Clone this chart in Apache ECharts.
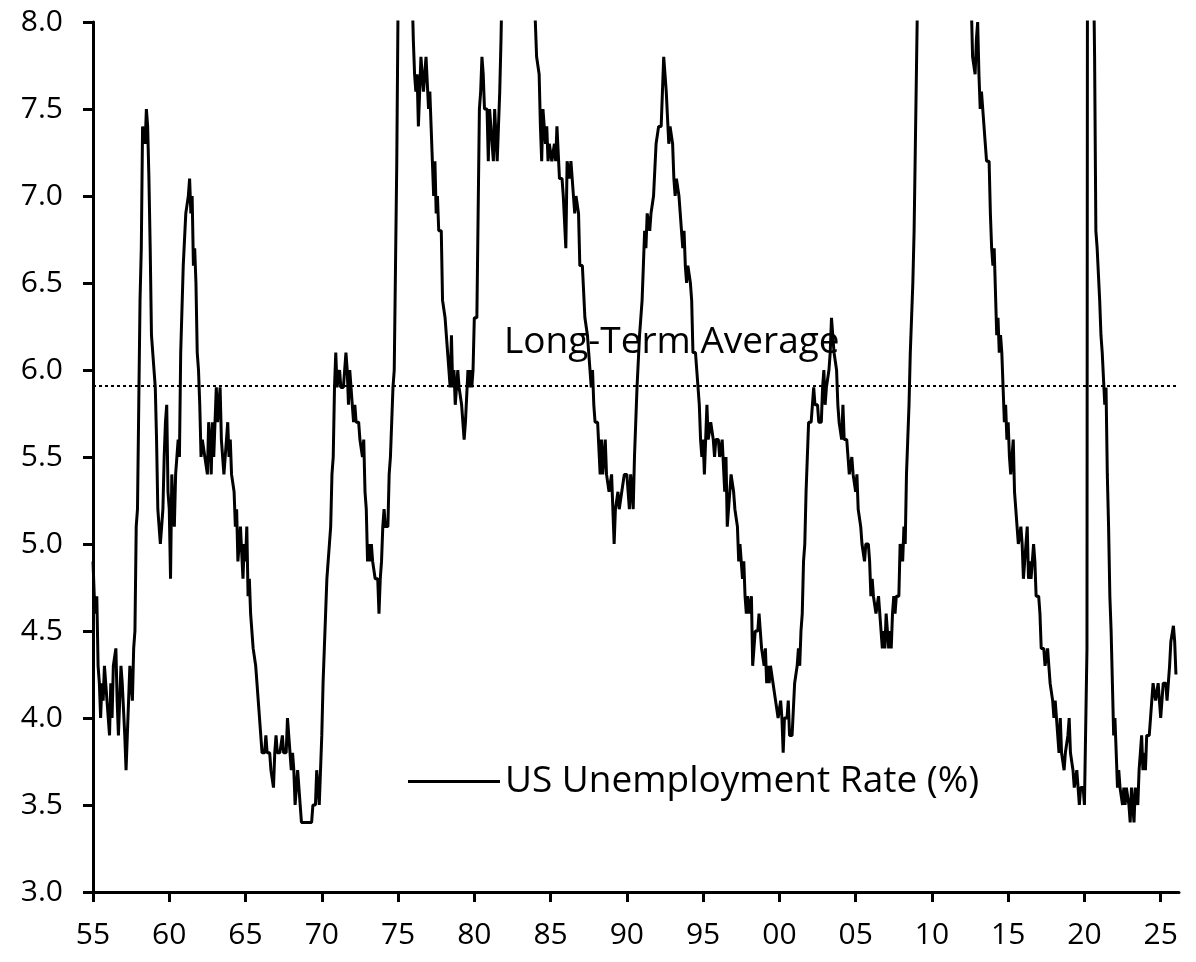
<!DOCTYPE html>
<html>
<head>
<meta charset="utf-8">
<script src="https://cdn.jsdelivr.net/npm/echarts@6/dist/echarts.min.js"></script>
<style>html,body{margin:0;padding:0;background:#fff}#c{width:1196px;height:962px}</style>
</head>
<body>
<div id="c"></div>
<script>
// US unemployment rate, monthly, starting January 1955
const startYear = 1955;
const rate1955s = [
  4.9,4.7,4.6,4.7,4.3,4.2,4.0,4.2,4.1,4.3,4.2,4.2,
  4.0,3.9,4.2,4.0,4.3,4.3,4.4,4.1,3.9,3.9,4.3,4.2,
  4.2,3.9,3.7,3.9,4.1,4.3,4.2,4.1,4.4,4.5,5.1,5.2,
  5.8,6.4,6.7,7.4,7.4,7.3,7.5,7.4,7.1,6.7,6.2,6.2,
  6.0,5.9,5.6,5.2,5.1,5.0,5.1,5.2,5.5,5.7,5.8,5.3
];
const rate1960s = [
  5.2,4.8,5.4,5.2,5.1,5.4,5.5,5.6,5.5,6.1,6.1,6.6,
  6.6,6.9,6.9,7.0,7.1,6.9,7.0,6.6,6.7,6.5,6.1,6.0,
  5.8,5.5,5.6,5.6,5.5,5.5,5.4,5.7,5.6,5.4,5.7,5.5,
  5.7,5.9,5.7,5.7,5.9,5.6,5.6,5.4,5.5,5.5,5.7,5.5,
  5.6,5.4,5.4,5.3,5.1,5.2,4.9,5.0,5.1,5.1,4.8,5.0,
  4.9,5.1,4.7,4.8,4.6,4.6,4.4,4.4,4.3,4.2,4.1,4.0,
  4.0,3.8,3.8,3.8,3.9,3.8,3.8,3.8,3.7,3.7,3.6,3.8,
  3.9,3.8,3.8,3.8,3.8,3.9,3.8,3.8,3.8,4.0,3.9,3.8,
  3.7,3.8,3.7,3.5,3.5,3.7,3.7,3.5,3.4,3.4,3.4,3.4,
  3.4,3.4,3.4,3.4,3.4,3.5,3.5,3.5,3.7,3.7,3.5,3.5
];
const rate1970s = [
  3.9,4.2,4.4,4.6,4.8,4.9,5.0,5.1,5.4,5.5,5.9,6.1,
  5.9,5.9,6.0,5.9,5.9,5.9,6.0,6.1,6.0,5.8,6.0,6.0,
  5.8,5.7,5.8,5.7,5.7,5.7,5.6,5.6,5.5,5.6,5.3,5.2,
  4.9,5.0,4.9,5.0,4.9,4.9,4.8,4.8,4.8,4.6,4.8,4.9,
  5.1,5.2,5.1,5.1,5.1,5.4,5.5,5.5,5.9,6.0,6.6,7.2,
  8.1,8.1,8.6,8.8,9.0,8.8,8.6,8.4,8.4,8.4,8.3,8.2,
  7.9,7.7,7.6,7.7,7.4,7.6,7.8,7.8,7.6,7.7,7.8,7.8,
  7.5,7.6,7.4,7.2,7.0,7.2,6.9,7.0,6.8,6.8,6.8,6.4,
  6.4,6.3,6.3,6.1,6.0,5.9,6.2,5.9,6.0,5.8,5.9,6.0,
  5.9,5.9,5.8,5.8,5.6,5.7,5.7,6.0,5.9,6.0,5.9,6.0
];
const rate1980s = [
  6.3,6.3,6.3,6.9,7.5,7.6,7.8,7.7,7.5,7.5,7.5,7.2,
  7.5,7.4,7.4,7.2,7.5,7.5,7.2,7.4,7.6,7.9,8.3,8.5,
  8.6,8.9,9.0,9.3,9.4,9.6,9.8,9.8,10.1,10.4,10.8,10.8,
  10.4,10.4,10.3,10.2,10.1,10.1,9.4,9.5,9.2,8.8,8.5,8.3,
  8.0,7.8,7.8,7.7,7.4,7.2,7.5,7.5,7.3,7.4,7.2,7.3,
  7.3,7.2,7.2,7.3,7.2,7.4,7.4,7.1,7.1,7.1,7.0,7.0,
  6.7,7.2,7.2,7.1,7.2,7.2,7.0,6.9,7.0,7.0,6.9,6.6,
  6.6,6.6,6.6,6.3,6.3,6.2,6.1,6.0,5.9,6.0,5.8,5.7,
  5.7,5.7,5.7,5.4,5.6,5.4,5.4,5.6,5.4,5.4,5.3,5.3,
  5.4,5.2,5.0,5.2,5.2,5.3,5.2,5.2,5.3,5.3,5.4,5.4
];
const rate1990s = [
  5.4,5.3,5.2,5.4,5.4,5.2,5.5,5.7,5.9,5.9,6.2,6.3,
  6.4,6.6,6.8,6.7,6.9,6.9,6.8,6.9,6.9,7.0,7.0,7.3,
  7.3,7.4,7.4,7.4,7.6,7.8,7.7,7.6,7.6,7.3,7.4,7.4,
  7.3,7.1,7.0,7.1,7.1,7.0,6.9,6.8,6.7,6.8,6.6,6.5,
  6.6,6.6,6.5,6.4,6.1,6.1,6.1,6.0,5.9,5.8,5.6,5.5,
  5.6,5.4,5.4,5.8,5.6,5.6,5.7,5.7,5.6,5.5,5.6,5.6,
  5.6,5.5,5.5,5.6,5.6,5.3,5.5,5.1,5.2,5.2,5.4,5.4,
  5.3,5.2,5.2,5.1,4.9,5.0,4.9,4.8,4.9,4.7,4.6,4.7,
  4.6,4.6,4.7,4.3,4.4,4.5,4.5,4.5,4.6,4.5,4.4,4.4,
  4.3,4.4,4.2,4.3,4.2,4.3,4.3,4.2,4.2,4.1,4.1,4.0
];
const rate2000s = [
  4.0,4.1,4.0,3.8,4.0,4.0,4.0,4.1,3.9,3.9,3.9,3.9,
  4.2,4.2,4.3,4.4,4.3,4.5,4.6,4.9,5.0,5.3,5.5,5.7,
  5.7,5.7,5.7,5.9,5.8,5.8,5.8,5.7,5.7,5.7,5.9,6.0,
  5.8,5.9,5.9,6.0,6.1,6.3,6.2,6.1,6.1,6.0,5.8,5.7,
  5.7,5.6,5.8,5.6,5.6,5.6,5.5,5.4,5.4,5.5,5.4,5.4,
  5.3,5.4,5.2,5.2,5.1,5.0,5.0,4.9,5.0,5.0,5.0,4.9,
  4.7,4.8,4.7,4.7,4.6,4.6,4.7,4.7,4.5,4.4,4.5,4.4,
  4.6,4.5,4.4,4.5,4.4,4.6,4.7,4.6,4.7,4.7,4.7,5.0,
  5.0,4.9,5.1,5.0,5.4,5.6,5.8,6.1,6.1,6.5,6.8,7.3,
  7.8,8.3,8.7,9.0,9.4,9.5,9.5,9.6,9.8,10.0,9.9,9.9
];
const rate2010s = [
  9.8,9.8,9.9,9.9,9.6,9.4,9.4,9.5,9.5,9.4,9.8,9.3,
  9.1,9.0,9.0,9.1,9.0,9.1,9.0,9.0,9.0,8.8,8.6,8.5,
  8.3,8.3,8.2,8.2,8.2,8.2,8.2,8.1,7.8,7.8,7.7,7.9,
  8.0,7.7,7.5,7.6,7.5,7.5,7.3,7.2,7.2,7.2,6.9,6.7,
  6.6,6.7,6.7,6.2,6.3,6.1,6.2,6.1,5.9,5.7,5.8,5.6,
  5.7,5.5,5.4,5.4,5.6,5.3,5.2,5.1,5.0,5.0,5.1,5.0,
  4.8,4.9,5.0,5.1,4.8,4.9,4.8,4.9,5.0,4.9,4.7,4.7,
  4.7,4.6,4.4,4.4,4.4,4.3,4.3,4.4,4.3,4.2,4.2,4.1,
  4.0,4.1,4.0,4.0,3.8,4.0,3.8,3.8,3.7,3.8,3.8,3.9,
  4.0,3.8,3.8,3.7,3.6,3.6,3.7,3.6,3.5,3.6,3.6,3.6
];
const rate2020s = [
  3.5,3.5,4.4,14.8,13.2,11.0,10.2,8.4,7.8,6.8,6.7,6.7,
  6.4,6.2,6.1,6.1,5.8,5.9,5.4,5.1,4.7,4.5,4.2,3.9,
  4.0,3.8,3.6,3.7,3.6,3.6,3.5,3.6,3.5,3.6,3.6,3.5,
  3.4,3.6,3.5,3.4,3.6,3.6,3.5,3.7,3.8,3.9,3.7,3.8,
  3.7,3.9,3.9,3.9,4.0,4.1,4.2,4.2,4.1,4.1,4.2,4.1,
  4.0,4.1,4.2,4.2,4.2,4.1,4.2,4.3,4.44,null,4.53,4.44,
  4.25
];

const xTickYears = [1955,1960,1965,1970,1975,1980,1985,1990,1995,2000,2005,2010,2015,2020,2025];
const xMin = 1955, xMax = 2026.2;
const yMin = 3.0, yMax = 8.0, yStep = 0.5;
const seriesName = 'US Unemployment Rate (%)';
const averageLabel = 'Long-Term Average';
const longTermAverage = 5.91;

const monthly = [].concat(rate1955s, rate1960s, rate1970s, rate1980s, rate1990s, rate2000s, rate2010s, rate2020s);
const points = [];
monthly.forEach((v, i) => { if (v !== null) points.push([startYear + i / 12, v]); });

const FONT = '"Open Sans"';
const chart = echarts.init(document.getElementById('c'), null, {renderer: 'canvas'});
chart.setOption({
  animation: false,
  backgroundColor: '#fff',
  grid: {left: 93, right: 17, top: 22, bottom: 70, containLabel: false},
  xAxis: {
    type: 'value', min: xMin, max: xMax, interval: 5,
    axisLine: {show: true, onZero: false, lineStyle: {color: '#000', width: 3}},
    axisTick: {show: true, length: 10, lineStyle: {color: '#000', width: 3}, customValues: xTickYears},
    axisLabel: {customValues: xTickYears, formatter: v => String(Math.round(v) % 100).padStart(2, '0'),
      fontSize: 30, color: '#000', fontFamily: FONT, margin: 28},
    splitLine: {show: false}
  },
  yAxis: {
    type: 'value', min: yMin, max: yMax, interval: yStep,
    axisLine: {show: true, lineStyle: {color: '#000', width: 3}},
    axisTick: {show: true, length: 10, lineStyle: {color: '#000', width: 3}},
    axisLabel: {formatter: v => v.toFixed(1), fontSize: 30, color: '#000', fontFamily: FONT, margin: 30},
    splitLine: {show: false}
  },
  legend: {
    show: true, left: 403, top: 758, orient: 'horizontal',
    icon: 'rect', itemWidth: 92, itemHeight: 3, itemGap: 10,
    textStyle: {fontSize: 37, color: '#000', fontFamily: FONT, padding: [0, 0, 0, 0]},
    data: [seriesName]
  },
  series: [{
    name: seriesName, type: 'line', data: points,
    showSymbol: false, symbol: 'none', clip: true,
    color: '#000',
    lineStyle: {color: '#000', width: 3},
    markLine: {
      silent: true, symbol: ['none', 'none'],
      lineStyle: {type: [3, 3], color: '#000', width: 2},
      label: {show: false},
      data: [{yAxis: longTermAverage}]
    }
  }],
  graphic: [{
    type: 'text', left: 504, top: 324,
    style: {text: averageLabel, fontSize: 37, fontFamily: FONT, fill: '#000'}
  }]
});
</script>
</body>
</html>
